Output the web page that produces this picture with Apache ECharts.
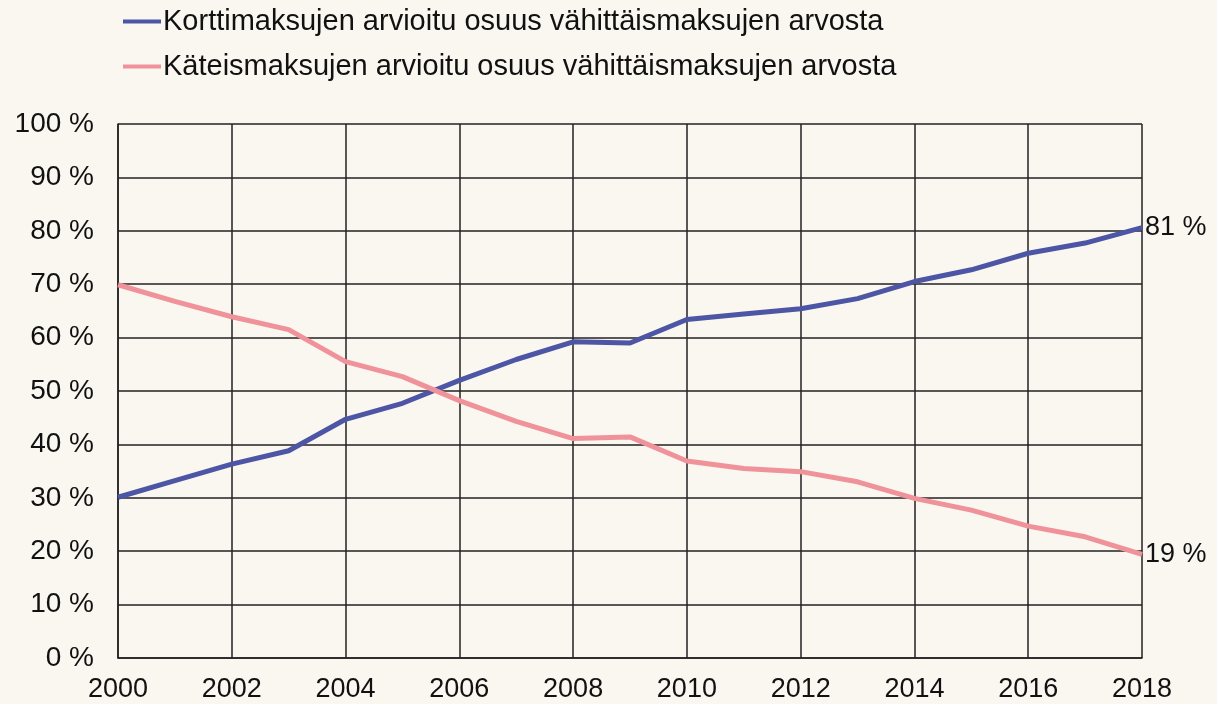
<!DOCTYPE html>
<html>
<head>
<meta charset="utf-8">
<script src="https://cdn.jsdelivr.net/npm/echarts@6/dist/echarts.min.js"></script>
<style>
html,body{margin:0;padding:0;background:#FAF6F0;}
#c{width:1217px;height:704px;}
</style>
</head>
<body>
<div id="c"></div>
<script>
const years = ['2000','2001','2002','2003','2004','2005','2006','2007','2008','2009','2010','2011','2012','2013','2014','2015','2016','2017','2018'];
const cardName = 'Korttimaksujen arvioitu osuus vähittäismaksujen arvosta';
const cashName = 'Käteismaksujen arvioitu osuus vähittäismaksujen arvosta';
const cardShare = [30.1, 33.2, 36.3, 38.8, 44.7, 47.7, 52.0, 55.9, 59.2, 59.0, 63.4, 64.4, 65.4, 67.3, 70.5, 72.7, 75.8, 77.7, 80.6];
const cashShare = [69.9, 66.8, 63.9, 61.5, 55.5, 52.7, 48.2, 44.3, 41.1, 41.4, 36.9, 35.5, 34.9, 33.0, 29.9, 27.7, 24.7, 22.7, 19.4];
const endLabels = ['81 %', '19 %'];
const yTicks = [0, 10, 20, 30, 40, 50, 60, 70, 80, 90, 100];

const font = 'Liberation Sans, Arial, sans-serif';
const chart = echarts.init(document.getElementById('c'));
chart.setOption({
  backgroundColor: '#FAF6F0',
  animation: false,
  legend: {
    orient: 'vertical',
    left: 123,
    top: 7,
    padding: 0,
    itemGap: 16,
    itemWidth: 38,
    itemHeight: 4,
    icon: 'rect',
    textStyle: { fontFamily: font, fontSize: 29, color: '#111', padding: [0, 0, 0, -3] },
    data: [cardName, cashName]
  },
  grid: { left: 118, right: 75, top: 124, bottom: 46, containLabel: false },
  xAxis: {
    type: 'category',
    data: years,
    boundaryGap: false,
    axisLine: { show: true, lineStyle: { color: '#222', width: 1.5 } },
    axisTick: { show: false },
    axisLabel: { interval: 1, fontFamily: font, fontSize: 27, color: '#111', margin: 18 },
    splitLine: { show: true, interval: 1, lineStyle: { color: '#222', width: 1.5 } }
  },
  yAxis: {
    type: 'value',
    min: yTicks[0],
    max: yTicks[yTicks.length - 1],
    interval: 10,
    axisLine: { show: true, lineStyle: { color: '#222', width: 1.5 } },
    axisTick: { show: false },
    axisLabel: { fontFamily: font, fontSize: 28, color: '#111', margin: 24, formatter: v => v + ' %' },
    splitLine: { show: true, lineStyle: { color: '#222', width: 1.5 } }
  },
  series: [
    {
      name: cardName,
      type: 'line',
      data: cardShare,
      symbol: 'none',
      lineStyle: { color: '#4D55A5', width: 5 },
      itemStyle: { color: '#4D55A5' },
      endLabel: { show: true, formatter: () => endLabels[0], fontFamily: font, fontSize: 27, color: '#111', distance: 3 }
    },
    {
      name: cashName,
      type: 'line',
      data: cashShare,
      symbol: 'none',
      lineStyle: { color: '#F0929A', width: 5 },
      itemStyle: { color: '#F0929A' },
      endLabel: { show: true, formatter: () => endLabels[1], fontFamily: font, fontSize: 27, color: '#111', distance: 3 }
    }
  ]
});
</script>
</body>
</html>
